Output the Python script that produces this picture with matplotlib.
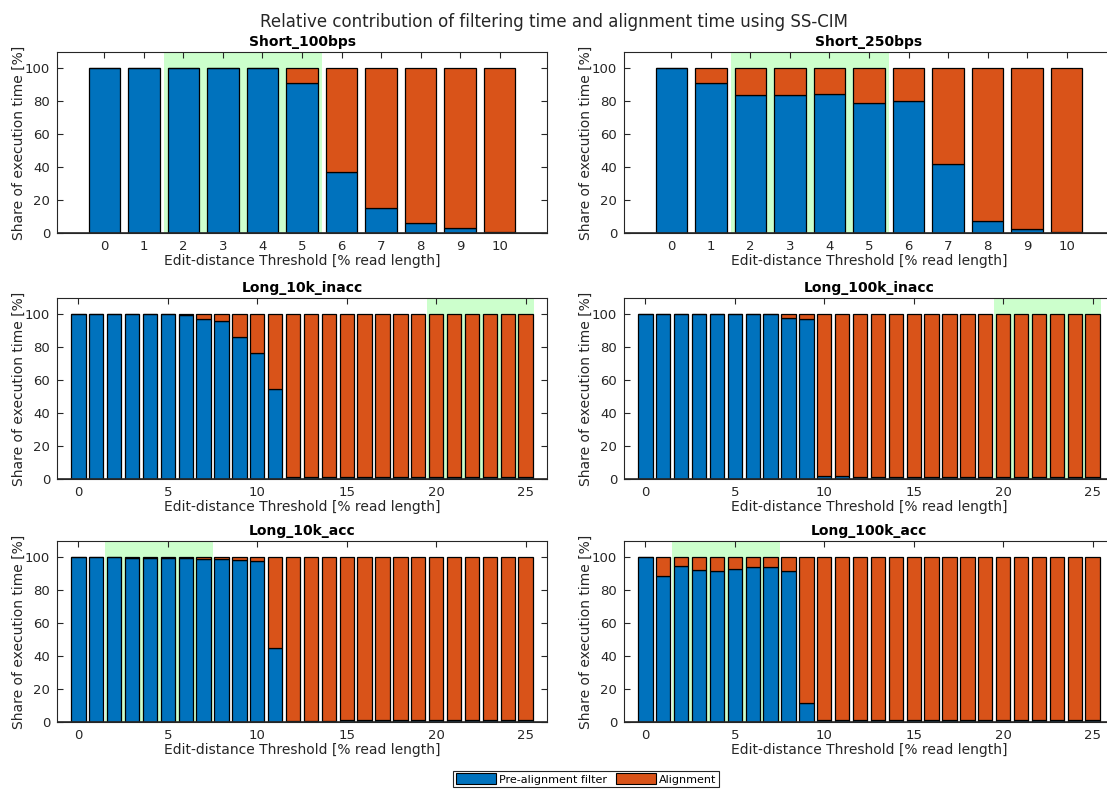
import numpy as np
import matplotlib
matplotlib.use("Agg")
import matplotlib.pyplot as plt
from matplotlib.patches import Patch

plt.rcParams['font.family'] = ['DejaVu Sans']

# Share of execution time spent in the pre-alignment filter [%]
short_thresholds = list(range(0, 11))
long_thresholds = list(range(0, 26))

short_100bps = [100, 100, 100, 100, 100, 91, 37, 15, 6, 3, 0.8]
short_250bps = [100, 91, 84, 84, 84.5, 79, 80.3, 42, 7, 2.5, 0.5]
long_10k_inacc = [100, 100, 100, 100, 100, 100, 99.5, 97.5, 96, 86.5, 76.5, 55,
                  1, 1, 1, 1, 1, 1.1, 1.1, 1.2, 1.4, 1.5, 1.5, 1.5, 1.5, 1.5]
long_100k_inacc = [100, 100, 100, 100, 100, 100, 100, 100, 98, 97,
                   2, 2, 1, 1, 1, 1, 1.2, 1.3, 1.4, 1.5, 1.5, 1.5, 1.5, 1.5, 1.5, 1.5]
long_10k_acc = [100, 100, 100, 99.5, 99.5, 99.8, 99.5, 99.3, 99.3, 98.7, 98, 45,
                0.8, 0.8, 0.9, 1, 1, 1, 1.1, 1.1, 1.1, 1.2, 1.2, 1.3, 1.3, 1.4]
long_100k_acc = [100, 88.5, 95, 92.5, 91.5, 92.8, 94, 94.5, 92, 11.5,
                 1, 1, 1, 1, 1, 1.1, 1.2, 1.3, 1.3, 1.4, 1.4, 1.4, 1.5, 1.5, 1.5, 1.5]

panel_titles = ["Short_100bps", "Short_250bps", "Long_10k_inacc",
                "Long_100k_inacc", "Long_10k_acc", "Long_100k_acc"]
panel_data = [short_100bps, short_250bps, long_10k_inacc,
              long_100k_inacc, long_10k_acc, long_100k_acc]
panel_x = [short_thresholds, short_thresholds, long_thresholds,
           long_thresholds, long_thresholds, long_thresholds]
# highlighted threshold ranges (inclusive)
highlight = [(2, 5), (2, 5), (20, 25), (20, 25), (2, 7), (2, 7)]

series_labels = ["Pre-alignment filter", "Alignment"]
blue = "#0072BD"
orange = "#D95319"
green = "#CCFFCC"
axcol = "#262626"

fig = plt.figure(figsize=(11.07, 7.91), dpi=100)

W, H = 1107, 791
col_left = [57, 624]
ax_w = 490
row_bottom = [233, 479, 722]
ax_h = 181

axes = []
for i in range(6):
    r, c = divmod(i, 2)
    ax = fig.add_axes([col_left[c] / W, 1 - row_bottom[r] / H, ax_w / W, ax_h / H])
    axes.append(ax)

for i, ax in enumerate(axes):
    x = np.array(panel_x[i])
    filt = np.array(panel_data[i], dtype=float)
    align = 100 - filt
    lo, hi = highlight[i]
    ax.axvspan(lo - 0.5, hi + 0.5, color=green, zorder=0, lw=0)
    ax.bar(x, filt, width=0.8, color=blue, edgecolor="black", linewidth=0.9, zorder=2)
    ax.bar(x, align, bottom=filt, width=0.8, color=orange, edgecolor="black",
           linewidth=0.9, zorder=2)
    ax.axhline(0, color=axcol, lw=1.2, zorder=3)
    ax.set_ylim(0, 110)
    if len(x) <= 11:
        ax.set_xlim(-1.2, 11.2)
        ax.set_xticks(x)
    else:
        ax.set_xlim(-1.2, 26.2)
        ax.set_xticks(range(0, 26, 5))
    ax.set_yticks(range(0, 101, 20))
    ax.tick_params(direction="in", top=True, right=True, length=4, width=0.8,
                   colors=axcol, labelsize=9.5, pad=5)
    for s in ax.spines.values():
        s.set_color(axcol)
        s.set_linewidth(0.8)
    ax.set_title(panel_titles[i], fontsize=10, fontweight="bold", pad=4)
    ax.set_xlabel("Edit-distance Threshold [% read length]", fontsize=10,
                  color=axcol, labelpad=1)
    ax.set_ylabel("Share of execution time [%]", fontsize=10, color=axcol, labelpad=-1)

fig.suptitle("Relative contribution of filtering time and alignment time using SS-CIM",
             fontsize=12, y=0.983, color=axcol)

handles = [Patch(facecolor=blue, edgecolor="black", lw=0.8),
           Patch(facecolor=orange, edgecolor="black", lw=0.8)]
leg = fig.legend(handles, series_labels, loc="center", ncol=2,
                 bbox_to_anchor=(586 / W, 1 - 779 / H), fontsize=8,
                 handlelength=3.6, handleheight=1.1, handletextpad=0.3,
                 columnspacing=0.8, borderpad=0.25, fancybox=False,
                 edgecolor=axcol, framealpha=1)
leg.get_frame().set_linewidth(0.8)

fig.savefig("out.png", dpi=100)
